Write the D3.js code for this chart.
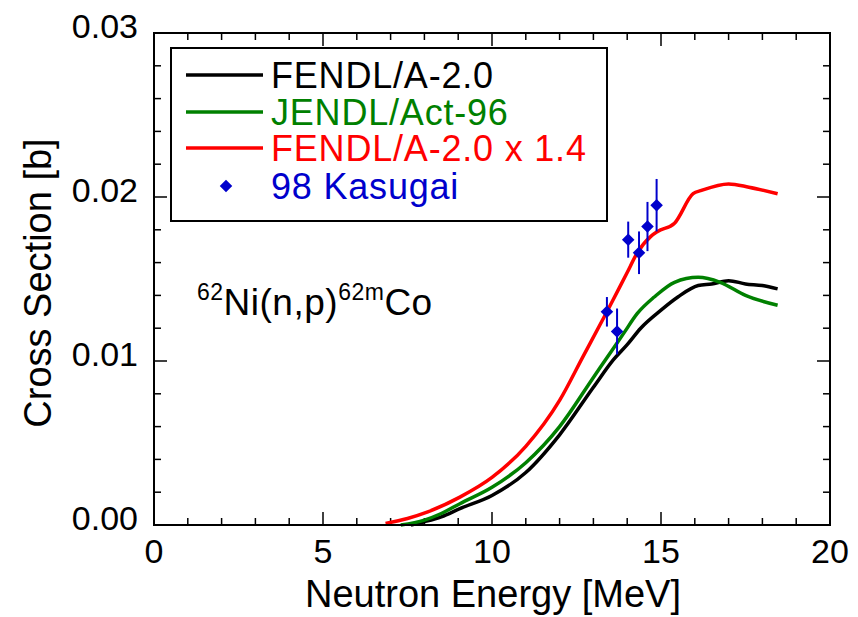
<!DOCTYPE html>
<html>
<head>
<meta charset="utf-8">
<script src="https://cdn.jsdelivr.net/npm/d3@7"></script>
<style>
  body { margin: 0; background: #fff; }
  text { font-family: "Liberation Sans", Arial, sans-serif; }
</style>
</head>
<body>
<div id="chart"></div>
<script>
// curve data (energy in MeV, cross section in b)
const fendlE = [7.6, 8.0, 8.5, 9.05, 10.0, 11.0, 12.0, 13.0, 13.6, 14.0, 14.4, 15.0, 15.5, 16.1, 16.5, 17.0, 17.5, 18.0, 18.45];
const fendlV = [0, 0.0002, 0.0005, 0.0010, 0.0018, 0.0032, 0.0055, 0.0084, 0.0101, 0.0110, 0.0120, 0.0131, 0.0139, 0.0146, 0.0147, 0.0149, 0.0147, 0.0146, 0.0144];

const jendlE = [7.3, 8.0, 8.5, 9.05, 10.0, 11.0, 12.0, 13.0, 13.4, 13.9, 14.3, 14.8, 15.4, 16.1, 16.75, 17.5, 18.45];
const jendlV = [0, 0.0003, 0.0007, 0.0013, 0.0023, 0.0038, 0.0060, 0.0090, 0.0102, 0.0117, 0.0129, 0.0139, 0.0148, 0.0151, 0.0148, 0.0140, 0.0134];

const scaledE = [6.85, 7.5, 8.1, 9.05, 10.0, 11.0, 12.0, 12.7, 13.4, 14.0, 14.3, 14.7, 14.9, 15.4, 15.95, 16.2, 17.0, 17.6, 18.45];
const scaledV = [0.0001, 0.0004, 0.0008, 0.0017, 0.0029, 0.0048, 0.0076, 0.0103, 0.0130, 0.0154, 0.0166, 0.0176, 0.0179, 0.0184, 0.0202, 0.0204, 0.0208, 0.0206, 0.0202];

// 98 Kasugai measurements
const expE = [13.4, 13.7, 14.03, 14.35, 14.6, 14.87];
const expV = [0.0130, 0.0118, 0.0174, 0.0166, 0.0182, 0.0195];
const expErr = [0.0009, 0.0014, 0.0011, 0.0013, 0.0015, 0.0016];

const xTicks = [0, 5, 10, 15, 20];
const yTicks = [0.00, 0.01, 0.02, 0.03];

const series = [
  {name: "FENDL/A-2.0", color: "#000000", E: fendlE, V: fendlV},
  {name: "JENDL/Act-96", color: "#008000", E: jendlE, V: jendlV},
  {name: "FENDL/A-2.0 x 1.4", color: "#ff0000", E: scaledE, V: scaledV}
];

const W = 858, H = 617;
const margin = {top: 33, right: 28, bottom: 92, left: 154};
const width = W - margin.left - margin.right,
      height = H - margin.top - margin.bottom;

const svg = d3.select("#chart").append("svg")
    .attr("width", W)
    .attr("height", H);

const g = svg.append("g")
    .attr("transform", `translate(${margin.left}, ${margin.top})`);

const x = d3.scaleLinear().domain([0, 20]).range([0, width]);
const y = d3.scaleLinear().domain([0, 0.03]).range([height, 0]);

// ticks on all four sides, pointing inward
const xMinor = d3.range(0, 21, 1);
const yMinor = d3.range(0, 0.0301, 0.002);

g.selectAll(".xt-bot").data(xMinor).join("line")
    .attr("x1", d => x(d)).attr("x2", d => x(d))
    .attr("y1", height).attr("y2", d => height - (d % 5 === 0 ? 13 : 7))
    .attr("stroke", "#000").attr("stroke-width", 1.5);
g.selectAll(".xt-top").data(xMinor).join("line")
    .attr("x1", d => x(d)).attr("x2", d => x(d))
    .attr("y1", 0).attr("y2", d => (d % 5 === 0 ? 13 : 7))
    .attr("stroke", "#000").attr("stroke-width", 1.5);

const isMajorY = d => Math.abs(d * 100 - Math.round(d * 100)) < 1e-6;
g.selectAll(".yt-left").data(yMinor).join("line")
    .attr("y1", d => y(d)).attr("y2", d => y(d))
    .attr("x1", 0).attr("x2", d => isMajorY(d) ? 13 : 7)
    .attr("stroke", "#000").attr("stroke-width", 1.5);
g.selectAll(".yt-right").data(yMinor).join("line")
    .attr("y1", d => y(d)).attr("y2", d => y(d))
    .attr("x1", width).attr("x2", d => width - (isMajorY(d) ? 13 : 7))
    .attr("stroke", "#000").attr("stroke-width", 1.5);

// tick labels
g.selectAll(".xl").data(xTicks).join("text")
    .attr("x", d => x(d))
    .attr("y", height + 38)
    .attr("text-anchor", "middle")
    .style("font-size", "34px")
    .text(d => d);

g.selectAll(".yl").data(yTicks).join("text")
    .attr("x", -16)
    .attr("y", d => y(d) + 5)
    .attr("text-anchor", "end")
    .style("font-size", "34px")
    .text(d => d3.format(".2f")(d));

// axis titles
svg.append("text")
    .attr("x", 493)
    .attr("y", 607)
    .attr("text-anchor", "middle")
    .style("font-size", "38px")
    .text("Neutron Energy [MeV]");

svg.append("text")
    .attr("transform", `translate(51, 283) rotate(-90)`)
    .attr("text-anchor", "middle")
    .style("font-size", "38px")
    .text("Cross Section [b]");

// curves
const line = d3.line()
    .x(d => x(d[0]))
    .y(d => y(d[1]))
    .curve(d3.curveMonotoneX);

g.selectAll(".curve").data(series).join("path")
    .attr("d", s => line(d3.zip(s.E, s.V)))
    .attr("fill", "none")
    .attr("stroke", s => s.color)
    .attr("stroke-width", 3.5);

// experimental points with error bars
const pts = d3.zip(expE, expV, expErr);
g.selectAll(".err").data(pts).join("line")
    .attr("x1", d => x(d[0])).attr("x2", d => x(d[0]))
    .attr("y1", d => y(d[1] - d[2])).attr("y2", d => y(d[1] + d[2]))
    .attr("stroke", "#0000cc").attr("stroke-width", 2);

const diamond = d3.symbol().type(d3.symbolDiamond2).size(100);
g.selectAll(".pt").data(pts).join("path")
    .attr("transform", d => `translate(${x(d[0])}, ${y(d[1])})`)
    .attr("d", diamond)
    .attr("fill", "#0000cc");

// frame
g.append("rect")
    .attr("width", width).attr("height", height)
    .attr("fill", "none").attr("stroke", "#000").attr("stroke-width", 2);

// reaction label
const lab = svg.append("text")
    .attr("x", 197)
    .attr("y", 315)
    .style("font-size", "37px")
    .style("letter-spacing", "0.5px");
lab.append("tspan").text("62").style("font-size", "23px").attr("dy", -15);
lab.append("tspan").text("Ni(n,p)").attr("dy", 15);
lab.append("tspan").text("62m").style("font-size", "23px").attr("dy", -15);
lab.append("tspan").text("Co").attr("dy", 15);

// legend
const legend = svg.append("g");
legend.append("rect")
    .attr("x", 171).attr("y", 48)
    .attr("width", 436).attr("height", 173)
    .attr("fill", "#fff").attr("stroke", "#000").attr("stroke-width", 2);

const legItems = series.concat([{name: "98 Kasugai", color: "#0000cc", point: true}]);
const rowY = [75, 112, 148, 186];

legItems.forEach((s, i) => {
    if (s.point) {
        legend.append("path")
            .attr("transform", `translate(226, ${rowY[i]})`)
            .attr("d", diamond)
            .attr("fill", s.color);
    } else {
        legend.append("line")
            .attr("x1", 186).attr("x2", 263)
            .attr("y1", rowY[i]).attr("y2", rowY[i])
            .attr("stroke", s.color).attr("stroke-width", 3.5);
    }
    legend.append("text")
        .attr("x", 271)
        .attr("y", rowY[i] + 13)
        .style("font-size", "36px")
        .style("letter-spacing", "0.8px")
        .attr("fill", s.color)
        .text(s.name);
});
</script>
</body>
</html>
